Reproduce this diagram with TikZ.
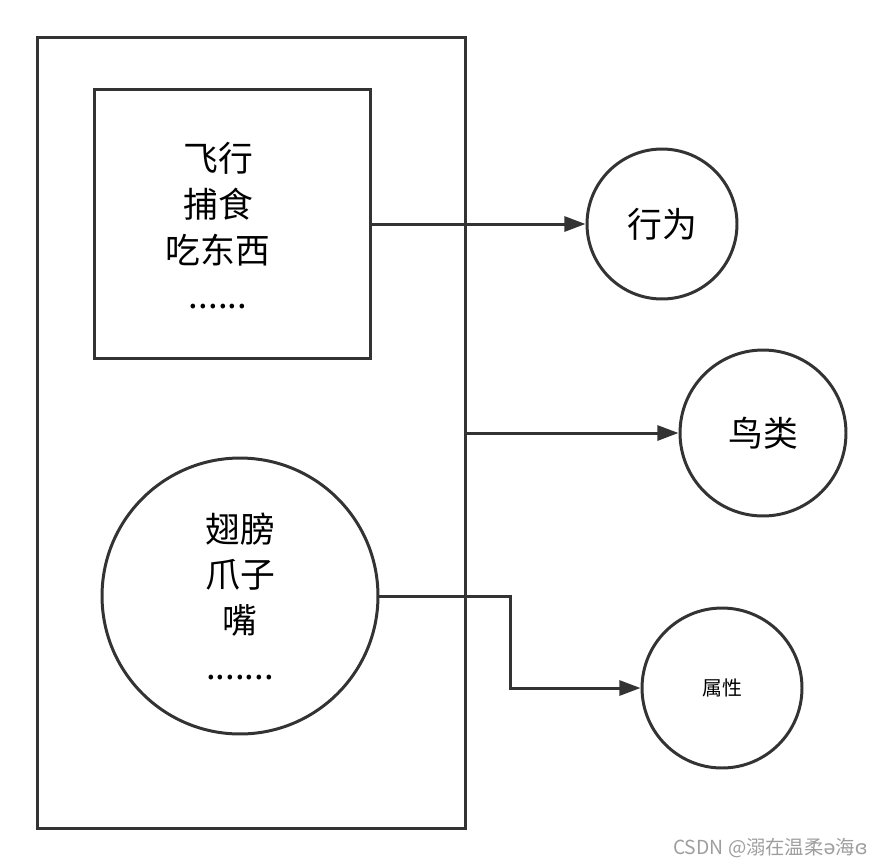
\documentclass[tikz,border=0pt]{standalone}
\usepackage{fontspec}
\newfontfamily\cjk{Noto Sans CJK SC}
\newfontfamily\wmipa{DejaVu Sans}
\usetikzlibrary{positioning,arrows.meta}

\begin{document}
\begin{tikzpicture}[x=0.02cm, y=-0.02cm, >=Latex]

\tikzset{
  box/.style={
    rectangle, draw=black!80, line width=1.7pt, align=center,
    inner sep=0pt, font=\cjk\fontsize{19.8}{26}\selectfont
  },
  bubble/.style={
    circle, draw=black!80, line width=1.7pt, align=center,
    inner sep=0pt, font=\cjk\fontsize{19.8}{26}\selectfont
  },
  txt/.style={align=center, inner sep=0pt, font=\cjk\fontsize{19.8}{26}\selectfont},
  arrow/.style={-{Triangle[length=12pt, width=8.5pt]}, draw=black!80, line width=1.7pt}
}

\useasboundingbox (0,0) rectangle (884,866);

% ==========================
% Left: the bird class
% ==========================
\node[box, minimum width=8.58cm, minimum height=15.82cm] (bird) at (251.5,433) {};
\node[box, minimum width=5.54cm, minimum height=5.38cm] (behav) at (232.5,224) {};
\node[txt] (behavtxt) at (218,226) {飞行\\捕食\\吃东西\\......};
\node[bubble, minimum size=5.52cm] (attr) at (240,596)
{翅膀\\爪子\\嘴\\.......};

% ==========================
% Right: labels
% ==========================
\node[bubble, minimum size=3.0cm] (xingwei) at (662,224) {行为};
\node[bubble, minimum size=3.32cm] (niaolei) at (763,433) {鸟类};
\node[bubble, minimum size=3.2cm, font=\cjk\fontsize{11.3}{14}\selectfont] (shuxing) at (722,688) {属性};

\draw[arrow] (behav.east) -- (xingwei.west);
\draw[arrow] (bird.east) -- (niaolei.west);
\draw[arrow] (attr.east) -- ++(131,0) |- (shuxing.west);

% watermark
\node[font=\cjk\fontsize{11}{13}\selectfont, text=black!38, anchor=east, inner sep=0pt] (wmark) at (868,848)
{CSDN @溺在温柔{\wmipa ə}海{\wmipa ɞ}};

\end{tikzpicture}
\end{document}
